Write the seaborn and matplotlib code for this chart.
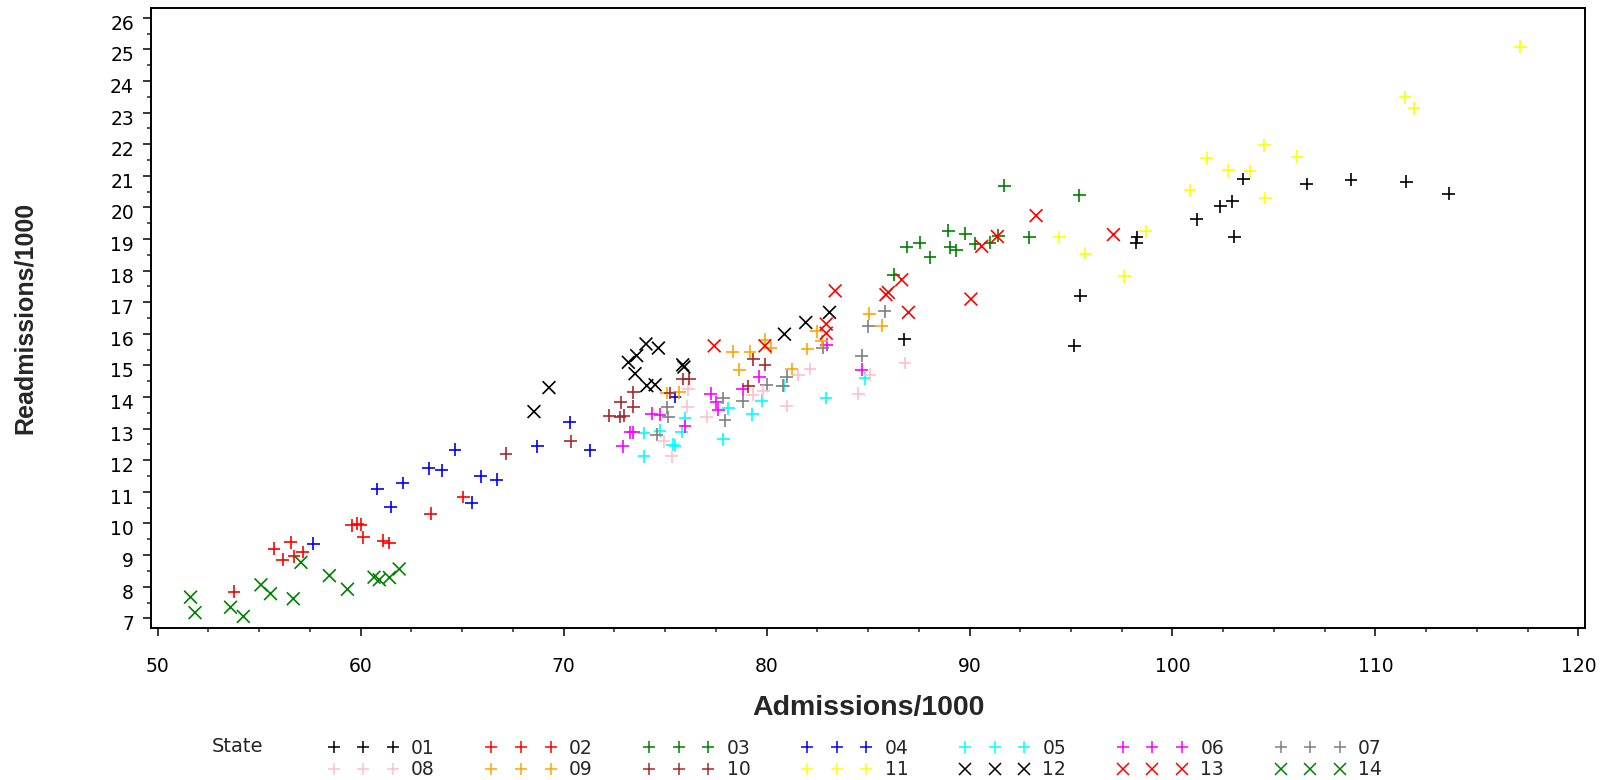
import matplotlib
matplotlib.use("Agg")
import matplotlib.pyplot as plt
import matplotlib.transforms as mtransforms
from matplotlib.lines import Line2D
from matplotlib.ticker import MultipleLocator
import seaborn as sns
import pandas as pd

# ---------------- data ----------------
states = ["01", "02", "03", "04", "05", "06", "07",
          "08", "09", "10", "11", "12", "13", "14"]

s01_x = [86.78, 95.17, 95.45, 98.21, 98.25, 101.20, 102.35, 102.95, 103.05, 103.49, 106.61, 108.79, 111.51, 113.60]
s01_y = [15.83, 15.62, 17.21, 18.89, 19.06, 19.63, 20.03, 20.19, 19.08, 20.90, 20.74, 20.88, 20.82, 20.43]

s02_x = [53.76, 55.73, 56.16, 56.55, 56.72, 57.15, 59.56, 59.83, 60.00, 60.13, 61.12, 61.42, 63.45, 65.06]
s02_y = [7.84, 9.20, 8.85, 9.41, 8.96, 9.10, 9.94, 9.99, 9.96, 9.56, 9.46, 9.38, 10.31, 10.84]

s03_x = [86.27, 86.91, 87.54, 88.05, 88.96, 89.04, 89.34, 89.79, 90.27, 91.01, 91.42, 91.72, 92.95, 95.41]
s03_y = [17.87, 18.75, 18.89, 18.42, 19.26, 18.74, 18.64, 19.17, 18.85, 18.89, 19.10, 20.69, 19.06, 20.38]

s04_x = [57.66, 60.82, 61.48, 62.07, 63.36, 64.00, 64.65, 65.47, 65.92, 66.70, 68.70, 70.31, 71.30, 75.49]
s04_y = [9.36, 11.09, 10.52, 11.28, 11.75, 11.68, 12.33, 10.66, 11.49, 11.38, 12.44, 13.20, 12.31, 14.00]

s05_x = [73.96, 73.96, 74.75, 75.37, 75.49, 75.82, 75.98, 78.12, 77.87, 79.30, 79.76, 80.84, 82.93, 84.85]
s05_y = [12.12, 12.86, 12.94, 12.49, 12.46, 12.91, 13.33, 13.65, 12.67, 13.46, 13.89, 14.36, 13.97, 14.60]

s06_x = [72.91, 73.27, 73.44, 74.34, 74.75, 75.98, 77.24, 77.51, 77.62, 78.83, 79.64, 82.97, 84.69]
s06_y = [12.44, 12.88, 12.88, 13.47, 13.44, 13.07, 14.10, 13.83, 13.60, 14.25, 14.65, 15.66, 14.86]

s07_x = [74.59, 75.11, 75.16, 77.87, 77.95, 78.83, 80.01, 80.80, 81.00, 82.77, 84.69, 85.02, 85.83]
s07_y = [12.81, 13.67, 13.37, 13.97, 13.26, 13.86, 14.39, 14.36, 14.65, 15.55, 15.31, 16.24, 16.71]

s08_x = [74.94, 75.32, 76.10, 76.15, 77.05, 79.31, 79.84, 81.00, 81.56, 82.14, 84.52, 85.10, 86.82]
s08_y = [12.60, 12.12, 13.70, 14.25, 13.37, 14.07, 14.18, 13.72, 14.70, 14.89, 14.10, 14.71, 15.08]

s09_x = [75.08, 75.70, 78.33, 78.66, 79.18, 79.92, 80.20, 81.24, 82.01, 82.47, 82.72, 85.07, 85.67]
s09_y = [14.13, 14.15, 15.44, 14.86, 15.44, 15.81, 15.55, 14.89, 15.52, 16.08, 15.76, 16.64, 16.26]

s10_x = [67.16, 70.35, 72.26, 72.78, 72.97, 72.81, 73.43, 73.43, 75.24, 75.87, 76.20, 79.10, 79.35, 79.92]
s10_y = [12.21, 12.60, 13.41, 13.37, 13.41, 13.83, 13.70, 14.15, 14.13, 14.57, 14.57, 14.34, 15.20, 15.02]

s11_x = [94.43, 95.70, 97.62, 98.68, 100.86, 101.69, 102.75, 103.82, 104.57, 104.52, 106.13, 111.46, 111.90, 117.13]
s11_y = [19.05, 18.53, 17.82, 19.24, 20.54, 21.56, 21.17, 21.14, 20.30, 21.96, 21.61, 23.49, 23.14, 25.08]

s12_x = [68.54, 69.28, 73.19, 73.60, 74.06, 74.67, 73.52, 74.10, 74.51, 75.87, 75.93, 80.88, 81.93, 83.10]
s12_y = [13.54, 14.30, 15.10, 15.31, 15.68, 15.55, 14.74, 14.36, 14.39, 15.02, 14.95, 15.99, 16.36, 16.68]

s13_x = [77.42, 79.92, 82.94, 82.94, 83.38, 85.88, 86.00, 86.66, 86.99, 90.07, 90.60, 91.37, 93.28, 97.09]
s13_y = [15.62, 15.62, 16.31, 16.02, 17.36, 17.24, 17.31, 17.71, 16.68, 17.10, 18.77, 19.08, 19.74, 19.14]

s14_x = [51.62, 51.84, 53.59, 54.22, 55.09, 55.56, 56.68, 57.06, 58.46, 59.35, 60.66, 60.92, 61.42, 61.90]
s14_y = [7.67, 7.18, 7.35, 7.06, 8.06, 7.78, 7.62, 8.77, 8.35, 7.92, 8.30, 8.22, 8.29, 8.56]

xs = [s01_x, s02_x, s03_x, s04_x, s05_x, s06_x, s07_x, s08_x, s09_x, s10_x, s11_x, s12_x, s13_x, s14_x]
ys = [s01_y, s02_y, s03_y, s04_y, s05_y, s06_y, s07_y, s08_y, s09_y, s10_y, s11_y, s12_y, s13_y, s14_y]

colors = ["#000000", "#FF0000", "#008000", "#0000FF", "#00FFFF", "#FF00FF", "#808080",
          "#FFC0CB", "#FFA500", "#A52A2A", "#FFFF00", "#000000", "#FF0000", "#008000"]
marker_kinds = ["+"] * 11 + ["x"] * 3

x_ticks = [50, 60, 70, 80, 90, 100, 110, 120]
y_ticks = list(range(7, 27))

# ---------------- build table ----------------
frames = []
for st, xv, yv in zip(states, xs, ys):
    frames.append(pd.DataFrame({"Admissions": xv, "Readmissions": yv, "State": st}))
df = pd.concat(frames, ignore_index=True)

palette = dict(zip(states, colors))
markers = dict(zip(states, marker_kinds))

# ---------------- plot ----------------
sns.set_style("ticks")
plt.rcParams["font.family"] = ["Liberation Sans", "DejaVu Sans"]

fig = plt.figure(figsize=(16.2, 7.8), dpi=100)
ax = fig.add_axes([0.0930, 0.19449, 0.8856, 0.79487])

sns.scatterplot(data=df, x="Admissions", y="Readmissions", hue="State", style="State",
                palette=palette, markers=markers, hue_order=states, style_order=states,
                s=85, linewidth=1.2, legend=False, ax=ax)

ax.set_xlim(49.655, 120.34)
ax.set_ylim(6.684, 26.30)
ax.set_xticks(x_ticks)
ax.set_yticks(y_ticks)
ax.xaxis.set_minor_locator(MultipleLocator(2.5))
ax.yaxis.set_minor_locator(MultipleLocator(0.5))

tick_font = {"family": ["DejaVu Sans"], "size": 13.5}
ax.set_xticklabels([str(t) for t in x_ticks], fontdict=tick_font)
ax.set_yticklabels([str(t) for t in y_ticks], fontdict=tick_font)

ax.tick_params(axis="x", which="major", direction="out", length=6, width=1.1, pad=15, colors="black")
ax.tick_params(axis="x", which="minor", direction="out", length=3.2, width=1.1)
ax.tick_params(axis="y", which="major", direction="out", length=6, width=1.1, pad=6, colors="black")
ax.tick_params(axis="y", which="minor", direction="out", length=2.6, width=1.1)

# SAS places the y tick labels slightly below their tick marks
offset = mtransforms.ScaledTranslation(0, -0.045, fig.dpi_scale_trans)
for lab in ax.get_yticklabels():
    lab.set_transform(lab.get_transform() + offset)

for sp in ax.spines.values():
    sp.set_visible(True)
    sp.set_linewidth(1.4)
    sp.set_color("black")

ax.set_xlabel("Admissions/1000", fontsize=20.5, fontweight="bold", va="center")
ax.set_ylabel("Readmissions/1000", fontsize=18, fontweight="bold", va="center")
ax.xaxis.set_label_coords(0.5, -0.1288)
ax.yaxis.set_label_coords(-0.0874, 0.5)

# ---------------- legend (row-major order) ----------------
handles = {st: Line2D([], [], linestyle="none", marker=m, color=c, markersize=9, markeredgewidth=1.1)
           for st, m, c in zip(states, marker_kinds, colors)}
order = []
for i in range(7):
    order.append(states[i])
    order.append(states[i + 7])
leg = fig.legend([handles[s] for s in order], order, ncol=7, loc="upper left",
                 bbox_to_anchor=(0.2025, 0.0525), frameon=False, numpoints=3,
                 handlelength=3.75, handletextpad=0.68, columnspacing=2.72,
                 labelspacing=0.12, borderpad=0, borderaxespad=0,
                 prop={"family": ["DejaVu Sans"], "size": 13.5})
fig.text(212 / 1620, 1 - 747 / 780, "State", fontsize=14, family=["DejaVu Sans"], va="center", ha="left")

fig.savefig("out.png", dpi=100, facecolor="white")
